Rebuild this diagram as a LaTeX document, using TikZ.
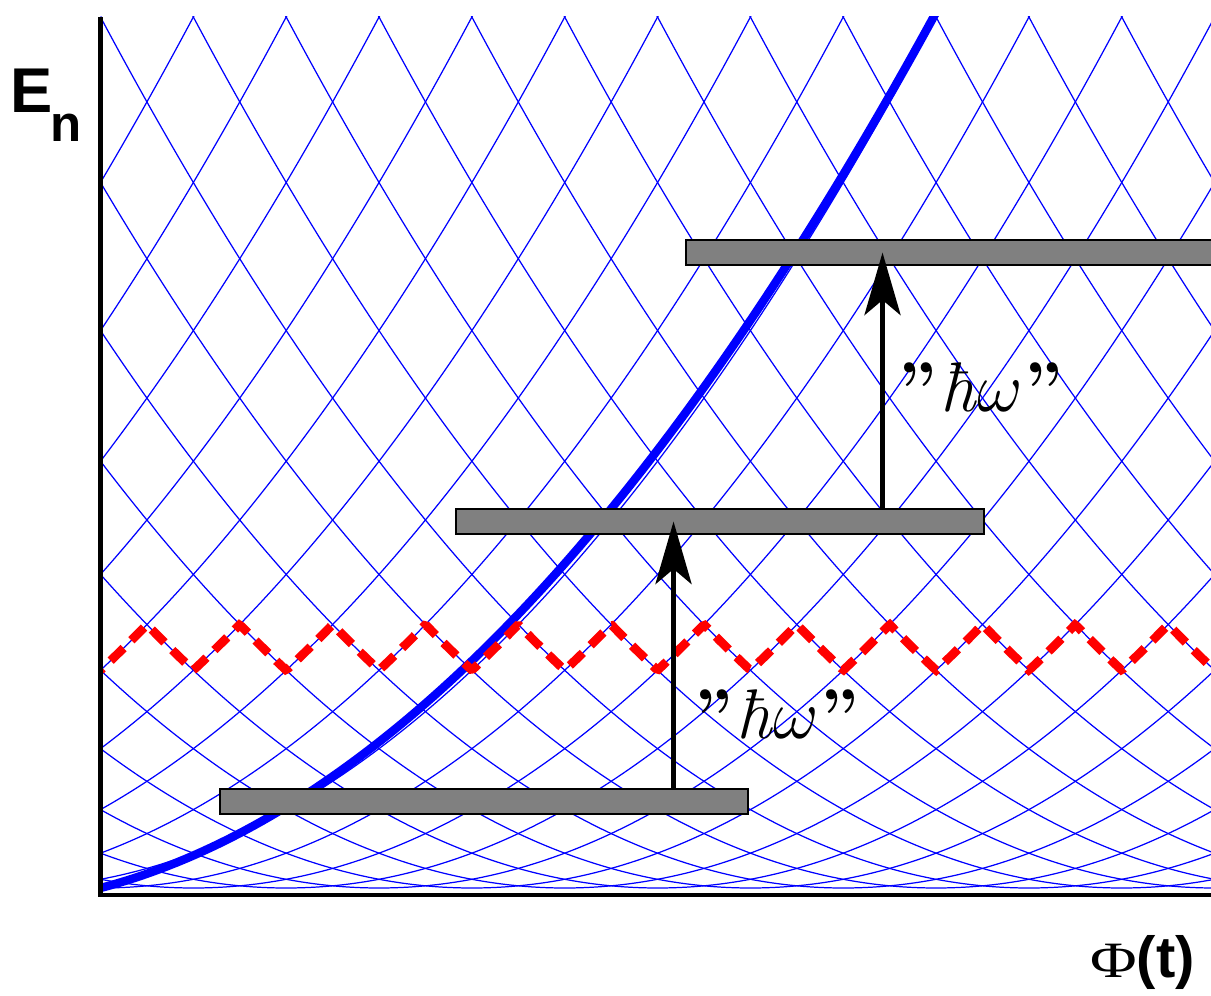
\RequirePackage{fix-cm}
\documentclass[tikz,border=0pt]{standalone}
\usepackage{fontspec}
\usepackage{tikz}
\usetikzlibrary{arrows.meta}
\newfontfamily\axfont{Liberation Sans}
\newfontfamily\phifont{Liberation Serif}

\begin{document}
\begin{tikzpicture}[x=1.8568cm,y=0.1742cm,
    level/.style={draw=black,line width=1pt,fill=gray,minimum height=0.5cm,inner sep=0pt},
    hop/.style={line width=3.2pt,-{Stealth[length=1.25cm,width=0.72cm,inset=0.3cm]}},
    hw/.style={inner sep=0pt,font=\fontsize{40}{48}\selectfont},
    axlabel/.style={inner sep=0pt,font=\axfont\bfseries}]
	\clip (-1.0825,-12.285) rectangle (11.961,101.952);
	% levels (Phi-n)^2 and the two paths
	\begin{scope}
		\clip (0,-0.8) rectangle (11.97,100);
		\foreach \n in {-10,...,22}{
			\pgfmathsetmacro{\lo}{max(0,\n-10.2)}
			\pgfmathsetmacro{\hi}{min(12,\n+10.2)}
			\draw[blue,line width=0.7pt,domain=\lo:\hi,samples=161] plot (\x,{(\x-(\n))*(\x-(\n))});
		}
		\draw[blue,line width=4.8pt,domain=0:9.1,samples=100] plot (\x,{0.93*\x*\x+2.8*\x});
		\draw[red,line width=5pt,dash pattern=on 0.36cm off 0.22cm,dash phase=0.3cm,domain=0:11.97,samples=481]
			plot (\x,{(5+abs(\x-round(\x)))*(5+abs(\x-round(\x)))});
	\end{scope}
	\coordinate (top) at (0,100);
	\coordinate (O) at (0,-0.8);
	\coordinate (end) at (11.97,-0.8);
	\draw[line width=2.8pt] (top) -- (O) -- (end);
	\node[level,minimum width=10.56cm] (lev1) at (4.131,9.931) {};
	\node[level,minimum width=10.56cm] (lev2) at (6.673,42.08) {};
	\node[level,minimum width=11.2cm] (lev3) at (9.322,72.96) {};
	\coordinate (up1) at (6.172,0);
	\coordinate (up2) at (8.423,0);
	\draw[hop] (lev1.north -| up1) -- (lev2.center -| up1);
	\draw[hop] (lev2.north -| up2) -- (lev3.center -| up2);
	\node[hw,anchor=west] (hw1) at (6.39,19.98) {{\bfseries''}\kern2pt\textit{ħ}$\omega$\kern1pt{\bfseries''}};
	\node[hw,anchor=west] (hw2) at (8.59,57.52) {{\bfseries''}\kern2pt\textit{ħ}$\omega$\kern1pt{\bfseries''}};
	\node[axlabel,anchor=base west,font=\axfont\bfseries\fontsize{36}{36}\selectfont] (elab) at (-0.975,89.09)
		{E\kern-1pt\raisebox{-17pt}{\fontsize{29}{29}\selectfont n}};
	\node[axlabel,anchor=base west,font=\axfont\bfseries\fontsize{33}{33}\selectfont] (philab) at (10.658,-10.33)
		{\scalebox{1.25}[1]{\phifont\mdseries\fontsize{29}{29}\selectfont Φ}(t)};
\end{tikzpicture}
\end{document}
